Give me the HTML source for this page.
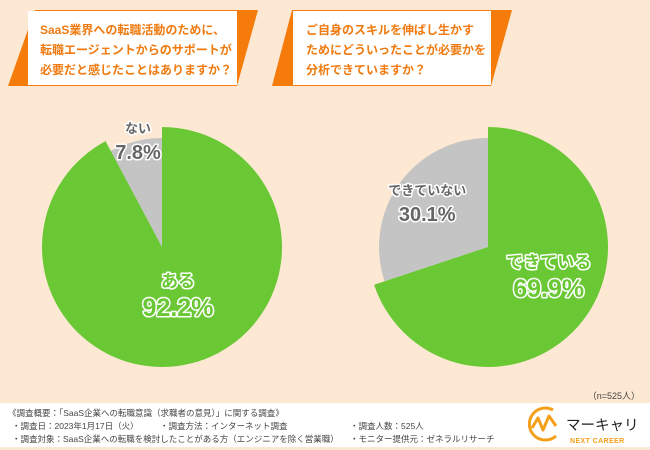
<!DOCTYPE html>
<html><head><meta charset="utf-8"><style>
html,body{margin:0;padding:0}
body{width:650px;height:450px;overflow:hidden;background:#fde8d3;font-family:"Liberation Sans","Noto Sans CJK JP",sans-serif;position:relative}
.ft{position:absolute;font-size:8.5px;color:#444;white-space:nowrap;line-height:10px}
</style></head><body>
<svg width="650" height="450" style="position:absolute;left:0;top:0">
  <g>
    <polygon points="35,10 258,10 237,86 8,86" fill="#f57c0a"/>
    <rect x="28" y="11" width="209" height="74" fill="#fff"/>
    <text x="40" y="34" font-size="12" font-weight="bold" fill="#f07a10" font-family="Liberation Sans,Noto Sans CJK JP,sans-serif">SaaS業界への転職活動のために、</text>
    <text x="40" y="54" font-size="12" font-weight="bold" fill="#f07a10" font-family="Liberation Sans,Noto Sans CJK JP,sans-serif">転職エージェントからのサポートが</text>
    <text x="40" y="74" font-size="12" font-weight="bold" fill="#f07a10" font-family="Liberation Sans,Noto Sans CJK JP,sans-serif">必要だと感じたことはありますか？</text>
  </g>
  <g>
    <polygon points="292,10 512,10 491,86 272,86" fill="#f57c0a"/>
    <rect x="293" y="11" width="198" height="74" fill="#fff"/>
    <text x="306" y="34" font-size="12" font-weight="bold" fill="#f07a10" font-family="Liberation Sans,Noto Sans CJK JP,sans-serif">ご自身のスキルを伸ばし生かす</text>
    <text x="306" y="54" font-size="12" font-weight="bold" fill="#f07a10" font-family="Liberation Sans,Noto Sans CJK JP,sans-serif">ためにどういったことが必要かを</text>
    <text x="306" y="74" font-size="12" font-weight="bold" fill="#f07a10" font-family="Liberation Sans,Noto Sans CJK JP,sans-serif">分析できていますか？</text>
  </g>
  <g id="pies"></g>
  <text x="640" y="399" font-size="9" fill="#444" text-anchor="end">（n=525人）</text>
  <rect x="0" y="403" width="650" height="44" fill="#fff"/>
  <g>
    <path d="M553,410 A16,16 0 1 0 556,436" fill="none" stroke="#f5a01a" stroke-width="3"/>
    <polyline points="532,428 538,418 543,430 549,416 556,426" fill="none" stroke="#f5a01a" stroke-width="3" stroke-linejoin="round"/>
    <text x="566" y="430" font-size="14.5" fill="#222">マーキャリ</text>
    <text x="570" y="443" font-size="7" font-weight="bold" fill="#f5a01a" letter-spacing="0.4">NEXT CAREER</text>
  </g>
</svg>
<div class="ft" style="left:8px;top:408px">《調査概要：「SaaS企業への転職意識（求職者の意見）」に関する調査》</div>
<div class="ft" style="left:12px;top:421px">・調査日：2023年1月17日（火）</div>
<div class="ft" style="left:160px;top:421px">・調査方法：インターネット調査</div>
<div class="ft" style="left:350px;top:421px">・調査人数：525人</div>
<div class="ft" style="left:12px;top:434px">・調査対象：SaaS企業への転職を検討したことがある方（エンジニアを除く営業職）</div>
<div class="ft" style="left:350px;top:434px">・モニター提供元：ゼネラルリサーチ</div>
<script>
const pieCategories=[["ある","ない"],["できている","できていない"]];
const pieValues=[[92.2,7.8],[69.9,30.1]];
const pieCenters=[[162,247],[488,247]];
const NS="http://www.w3.org/2000/svg";
const g=document.getElementById('pies');
function pt(cx,cy,r,frac){const a=frac*2*Math.PI;return [cx+r*Math.sin(a),cy-r*Math.cos(a)];}
function slice(cx,cy,r,f0,f1,color){
  const p0=pt(cx,cy,r,f0),p1=pt(cx,cy,r,f1);const large=(f1-f0)>0.5?1:0;
  const p=document.createElementNS(NS,'path');
  p.setAttribute('d',`M${cx},${cy}L${p0[0]},${p0[1]}A${r},${r} 0 ${large} 1 ${p1[0]},${p1[1]}Z`);
  p.setAttribute('fill',color);return p;}
function label(x,y,txt,size,fill){
  const t=document.createElementNS(NS,'text');
  t.setAttribute('x',x);t.setAttribute('y',y);t.setAttribute('text-anchor','middle');
  t.setAttribute('font-size',size);t.setAttribute('font-weight','bold');t.setAttribute('fill',fill);
  t.setAttribute('stroke','#fff');t.setAttribute('stroke-width','3');t.setAttribute('paint-order','stroke');
  t.setAttribute('stroke-linejoin','round');t.textContent=txt;return t;}
pieValues.forEach((vals,i)=>{
  const [cx,cy]=pieCenters[i];const tot=vals[0]+vals[1];const f=vals[0]/tot;
  const gs=slice(cx,cy,109,f,1,'#c4c4c4');
  
  
  g.appendChild(gs);
  const gr=slice(cx,cy,120,0,f,'#69c834');
  
  
  g.appendChild(gr);
  const gm=(f+1)/2;
  const lp=pt(cx,cy,70,gm);
  const lx=i===0?138:lp[0]-4, ly=i===0?133:lp[1]-11;
  const l1=label(lx,ly,pieCategories[i][1],13,'#666');
  
  
  g.appendChild(l1);
  const l2=label(lx,ly+26,vals[1].toFixed(1)+'%',20,'#666');
  
  
  g.appendChild(l2);
  const yp=pt(cx,cy,65,f/2);
  const yx=i===0?cx+16:yp[0]+8, yy=i===0?cy+40:yp[1]-17;
  const l3=label(yx,yy,pieCategories[i][0],17,'#69c834');
  
  
  g.appendChild(l3);
  const l4=label(yx,yy+29,vals[0].toFixed(1)+'%',25,'#69c834');
  
  
  g.appendChild(l4);
});
</script>
</body></html>
